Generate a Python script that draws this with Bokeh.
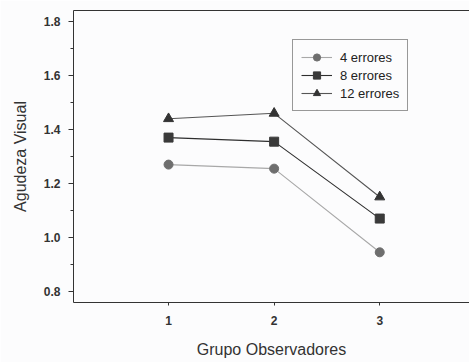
from bokeh.plotting import figure
from bokeh.models import (LinearAxis, FixedTicker, Range1d, Legend, LegendItem,
                          NumeralTickFormatter)
from bokeh.embed import file_html
from bokeh.resources import INLINE

# Visual acuity by observer group, for three error thresholds
grupos = [1, 2, 3]
errores_4 = [1.27, 1.255, 0.945]
errores_8 = [1.37, 1.355, 1.07]
errores_12 = [1.44, 1.46, 1.15]

y_ticks = [0.8, 1.0, 1.2, 1.4, 1.6, 1.8]
y_minor = [0.9, 1.1, 1.3, 1.5, 1.7]
x_ticks = [1, 2, 3]

FONT = "Liberation Sans"
INK = "#333333"
BG = "#fcfcfd"

p = figure(width=469, height=362, output_backend="svg", toolbar_location=None,
           x_range=Range1d(0.1, 3.85), y_range=Range1d(0.759, 1.841),
           min_border_left=73, min_border_top=10, min_border_bottom=60,
           min_border_right=0, background_fill_color=BG,
           border_fill_color=BG, outline_line_color=None)
p.grid.visible = False

# axes
p.yaxis.ticker = FixedTicker(ticks=y_ticks, minor_ticks=y_minor)
p.yaxis.formatter = NumeralTickFormatter(format="0.0")
p.xaxis.ticker = FixedTicker(ticks=x_ticks)
for ax in (p.xaxis[0], p.yaxis[0]):
    ax.axis_line_color = INK
    ax.major_tick_line_color = INK
    ax.minor_tick_line_color = INK
    ax.major_label_text_font = FONT
    ax.major_label_text_font_style = "bold"
    ax.major_label_text_font_size = "12px"
    ax.major_label_text_color = "#333333"
    ax.axis_label_text_font = FONT
    ax.axis_label_text_font_style = "normal"
    ax.axis_label_text_font_size = "16px"
    ax.axis_label_text_color = "#333333"
p.yaxis.major_tick_out = 5
p.yaxis.major_tick_in = 0
p.yaxis.minor_tick_out = 3
p.yaxis.minor_tick_in = 0
p.xaxis.major_tick_out = 3
p.xaxis.major_tick_in = 0
p.xaxis.minor_tick_line_color = None
p.yaxis.major_label_standoff = 8
p.xaxis.major_label_standoff = 10
p.yaxis.axis_label = "Agudeza Visual"
p.xaxis.axis_label = "Grupo Observadores"
p.yaxis.axis_label_standoff = 12
p.xaxis.axis_label_standoff = 13

# top border line
top = LinearAxis(ticker=FixedTicker(ticks=[]), axis_line_color=INK,
                 major_label_text_font_size="0px", major_tick_line_color=None,
                 minor_tick_line_color=None)
p.add_layout(top, "above")

series = [
    ("4 errores", errores_4, "#a8a8a8", "#6e6e6e", "circle", 9),
    ("8 errores", errores_8, "#2e2e2e", "#3a3a3a", "square", 9),
    ("12 errores", errores_12, "#555555", "#333333", "triangle", 10),
]
items = []
for label, vals, lc, mc, marker, size in series:
    ln = p.line(grupos, vals, line_color=lc, line_width=1.1)
    sc = p.scatter(grupos, vals, marker=marker, size=size,
                   fill_color=mc, line_color=mc)
    items.append(LegendItem(label=label, renderers=[ln, sc]))

legend = Legend(items=items, location=(219, 191),
                label_text_font=FONT, label_text_font_size="13px",
                label_text_color="#222222", glyph_width=31, glyph_height=18,
                label_height=18, label_standoff=8, spacing=0, padding=8,
                margin=0, border_line_color="#333333", border_line_width=1,
                background_fill_color=BG, background_fill_alpha=1)
p.add_layout(legend, "center")

open("out.html", "w").write(file_html(p, INLINE))
